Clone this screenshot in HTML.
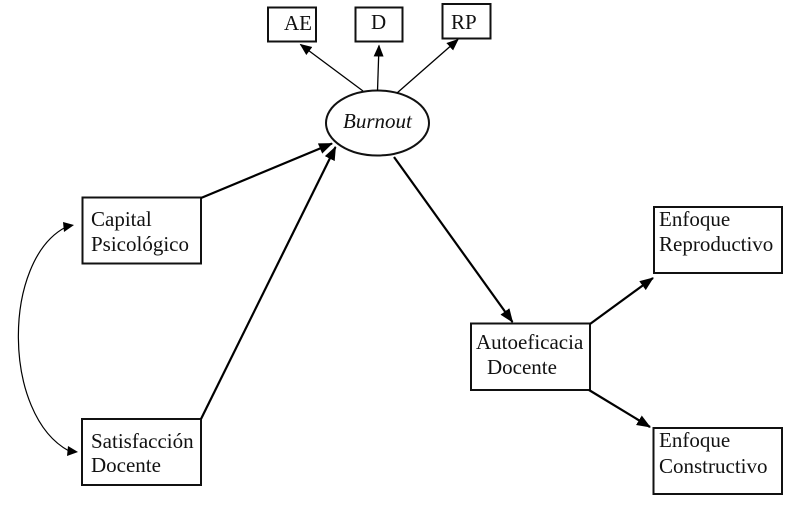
<!DOCTYPE html>
<html>
<head>
<meta charset="utf-8">
<style>
html,body{margin:0;padding:0;background:#fff;width:800px;height:512px;overflow:hidden}
svg{display:block}
text{font-family:"Liberation Serif",serif;font-size:21px;fill:#111}
</style>
</head>
<body>
<svg width="800" height="512" viewBox="0 0 800 512" xmlns="http://www.w3.org/2000/svg">
<defs>
<marker id="a" markerUnits="userSpaceOnUse" markerWidth="16" markerHeight="13" refX="13" refY="5.5" orient="auto"><path d="M0 0L14 5.5L0 11z" fill="#000"/></marker>
<marker id="b" markerUnits="userSpaceOnUse" markerWidth="14" markerHeight="12" refX="11" refY="5" orient="auto"><path d="M0 0L12 5L0 10z" fill="#000"/></marker>
</defs>
<g fill="#fff" stroke="#111" stroke-width="2">
<rect x="268" y="7.500" width="48" height="34"/>
<rect x="355.500" y="7.500" width="47" height="34"/>
<rect x="442.500" y="4" width="48" height="34.500"/>
<rect x="82.500" y="197.500" width="118.500" height="66"/>
<rect x="82" y="419" width="119" height="66"/>
<rect x="654" y="207" width="128" height="66"/>
<rect x="471" y="323.500" width="119" height="66.500"/>
<rect x="653.500" y="428" width="128.500" height="66"/>
<ellipse cx="377.500" cy="123" rx="51.500" ry="32.500"/>
</g>
<g fill="none" stroke="#000">
<line x1="363" y1="91" x2="300.500" y2="44.500" stroke-width="1.300" marker-end="url(#b)"/>
<line x1="377.500" y1="91" x2="379" y2="45.500" stroke-width="1.300" marker-end="url(#b)"/>
<line x1="397" y1="93" x2="458" y2="39.500" stroke-width="1.300" marker-end="url(#b)"/>
<line x1="201" y1="198" x2="332" y2="143.500" stroke-width="2.200" marker-end="url(#a)"/>
<line x1="201" y1="419" x2="335.500" y2="147" stroke-width="2.200" marker-end="url(#a)"/>
<line x1="394" y1="157" x2="512.500" y2="322" stroke-width="2.200" marker-end="url(#a)"/>
<line x1="590" y1="324" x2="653" y2="278" stroke-width="2.200" marker-end="url(#a)"/>
<line x1="589" y1="390" x2="650" y2="427" stroke-width="2.200" marker-end="url(#a)"/>
<path d="M66 227C2 260 2 415 69 451" stroke-width="1.200"/>
</g>
<polygon points="74,225 63,222 64,232" fill="#000"/>
<polygon points="78,452 68,446 67,456" fill="#000"/>
<text x="284" y="30">AE</text>
<text x="371" y="29">D</text>
<text x="451" y="29">RP</text>
<text x="343" y="128" font-style="italic">Burnout</text>
<text x="91" y="226">Capital</text>
<text x="91" y="251">Psicológico</text>
<text x="91" y="448">Satisfacción</text>
<text x="91" y="472">Docente</text>
<text x="659" y="226">Enfoque</text>
<text x="659" y="251">Reproductivo</text>
<text x="476" y="349">Autoeficacia</text>
<text x="487" y="374">Docente</text>
<text x="659" y="447">Enfoque</text>
<text x="659" y="473">Constructivo</text>
</svg>
</body>
</html>
